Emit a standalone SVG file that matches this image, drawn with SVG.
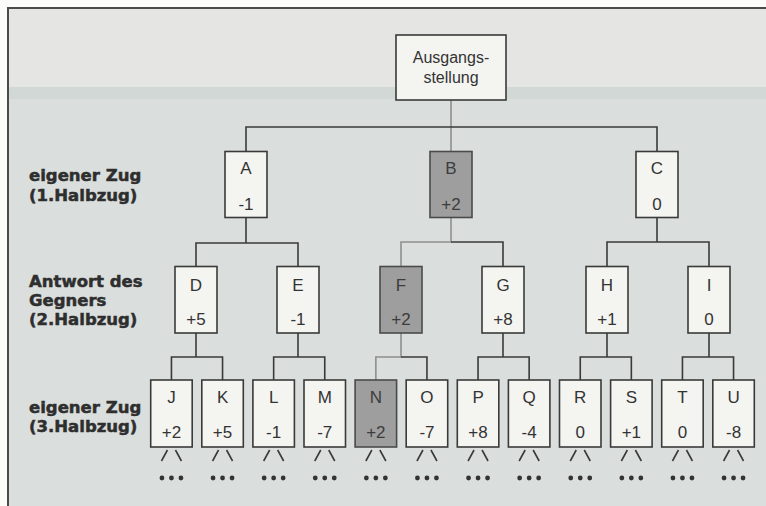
<svg xmlns="http://www.w3.org/2000/svg" width="766" height="506" viewBox="0 0 766 506">
<style>
.bg{fill:#dadedd}
.box{fill:#f4f4f1;stroke:#3a3a3a;stroke-width:1.6}
.hbox{fill:#9e9e9e;stroke:#4a4a4a;stroke-width:1.6}
.ln{stroke:#3a3a3a;stroke-width:1.6;fill:none}
.hl{stroke:#8f8f8f;stroke-width:1.6;fill:none}
.t{font-family:"Liberation Sans",Arial,sans-serif;font-size:17px;fill:#333;text-anchor:middle}
.r{font-size:16px}
.th{fill:#3c3c3c}
.lab{font-family:"DejaVu Sans",sans-serif;font-weight:bold;font-size:16.5px;fill:#2e2e2e;stroke:#2e2e2e;stroke-width:0.5}
.dot{fill:#333}
</style>
<defs>
<g id="more">
<path class="ln" d="M-4,450 L-10,461 M4,450 L10,461"/>
<circle class="dot" cx="-9.5" cy="478" r="2.4"/>
<circle class="dot" cx="0" cy="478" r="2.4"/>
<circle class="dot" cx="9.5" cy="478" r="2.4"/>
</g>
</defs>
<rect x="0" y="0" width="766" height="506" fill="#fbfbfa"/>
<rect x="8" y="8" width="758" height="498" class="bg"/>
<rect x="9" y="9" width="757" height="78" fill="#e5e6e4"/>
<rect x="9" y="87" width="757" height="12" fill="#d2d8d6"/>
<path d="M8,506 L8,8 L766,8" fill="none" stroke="#4a4a4a" stroke-width="2"/>

<g id="labels">
<text class="lab" x="29" y="181">eigener Zug</text>
<text class="lab" x="29" y="201">(1.Halbzug)</text>
<text class="lab" x="29" y="287">Antwort des</text>
<text class="lab" x="29" y="306">Gegners</text>
<text class="lab" x="29" y="325">(2.Halbzug)</text>
<text class="lab" x="29" y="413">eigener Zug</text>
<text class="lab" x="29" y="432">(3.Halbzug)</text>
</g>

<g id="connectors">
<path class="hl" d="M451,100 V151"/>
<path class="ln" d="M246,152 V127 H657 V151"/>
<path class="ln" d="M246,218 V243 M196,266.5 V243 H298 V266.5"/>
<path class="hl" d="M451,217 V242 H401 V266.5"/>
<path class="ln" d="M451,242 H503 V266.5"/>
<path class="ln" d="M657,217 V242 M607,266.5 V242 H709 V266.5"/>
<path class="ln" d="M196,333 V357 M171.45,380 V357 H222.55 V380"/>
<path class="ln" d="M298,333 V357 M273.65,380 V357 H324.75 V380"/>
<path class="hl" d="M401,333 V357 H375.85 V380"/>
<path class="ln" d="M401,357 H426.95 V380"/>
<path class="ln" d="M503,333 V357 M478.05,380 V357 H529.15 V380"/>
<path class="ln" d="M607,333 V357 M580.25,380 V357 H631.35 V380"/>
<path class="ln" d="M709,333 V357 M682.45,380 V357 H733.55 V380"/>
<use href="#more" x="171.45"/>
<use href="#more" x="222.55"/>
<use href="#more" x="273.65"/>
<use href="#more" x="324.75"/>
<use href="#more" x="375.85"/>
<use href="#more" x="426.95"/>
<use href="#more" x="478.05"/>
<use href="#more" x="529.15"/>
<use href="#more" x="580.25"/>
<use href="#more" x="631.35"/>
<use href="#more" x="682.45"/>
<use href="#more" x="733.55"/>
</g>

<g id="root"><rect class="box" x="396" y="35" width="110" height="65"/><text class="t r" x="451" y="63">Ausgangs-</text><text class="t r" x="451" y="83">stellung</text></g>

<g id="A"><rect class="box" x="225" y="151.5" width="42" height="66"/><text class="t" x="246" y="174">A</text><text class="t" x="246" y="210">-1</text></g>
<g id="B"><rect class="hbox" x="430" y="151.5" width="42" height="66"/><text class="t th" x="451" y="174">B</text><text class="t th" x="451" y="210">+2</text></g>
<g id="C"><rect class="box" x="636" y="151.5" width="42" height="66"/><text class="t" x="657" y="174">C</text><text class="t" x="657" y="210">0</text></g>

<g id="D"><rect class="box" x="175" y="266.5" width="42" height="66.5"/><text class="t" x="196" y="291">D</text><text class="t" x="196" y="325">+5</text></g>
<g id="E"><rect class="box" x="277" y="266.5" width="42" height="66.5"/><text class="t" x="298" y="291">E</text><text class="t" x="298" y="325">-1</text></g>
<g id="F"><rect class="hbox" x="380" y="266.5" width="42" height="66.5"/><text class="t th" x="401" y="291">F</text><text class="t th" x="401" y="325">+2</text></g>
<g id="G"><rect class="box" x="482" y="266.5" width="42" height="66.5"/><text class="t" x="503" y="291">G</text><text class="t" x="503" y="325">+8</text></g>
<g id="H"><rect class="box" x="586" y="266.5" width="42" height="66.5"/><text class="t" x="607" y="291">H</text><text class="t" x="607" y="325">+1</text></g>
<g id="I"><rect class="box" x="688" y="266.5" width="42" height="66.5"/><text class="t" x="709" y="291">I</text><text class="t" x="709" y="325">0</text></g>

<g id="J"><rect class="box" x="150.7" y="380" width="41.5" height="67"/><text class="t" x="171.45" y="403">J</text><text class="t" x="171.45" y="438">+2</text></g>
<g id="K"><rect class="box" x="201.8" y="380" width="41.5" height="67"/><text class="t" x="222.55" y="403">K</text><text class="t" x="222.55" y="438">+5</text></g>
<g id="L"><rect class="box" x="252.9" y="380" width="41.5" height="67"/><text class="t" x="273.65" y="403">L</text><text class="t" x="273.65" y="438">-1</text></g>
<g id="M"><rect class="box" x="304" y="380" width="41.5" height="67"/><text class="t" x="324.75" y="403">M</text><text class="t" x="324.75" y="438">-7</text></g>
<g id="N"><rect class="hbox" x="355.1" y="380" width="41.5" height="67"/><text class="t th" x="375.85" y="403">N</text><text class="t th" x="375.85" y="438">+2</text></g>
<g id="O"><rect class="box" x="406.2" y="380" width="41.5" height="67"/><text class="t" x="426.95" y="403">O</text><text class="t" x="426.95" y="438">-7</text></g>
<g id="P"><rect class="box" x="457.3" y="380" width="41.5" height="67"/><text class="t" x="478.05" y="403">P</text><text class="t" x="478.05" y="438">+8</text></g>
<g id="Q"><rect class="box" x="508.4" y="380" width="41.5" height="67"/><text class="t" x="529.15" y="403">Q</text><text class="t" x="529.15" y="438">-4</text></g>
<g id="R"><rect class="box" x="559.5" y="380" width="41.5" height="67"/><text class="t" x="580.25" y="403">R</text><text class="t" x="580.25" y="438">0</text></g>
<g id="S"><rect class="box" x="610.6" y="380" width="41.5" height="67"/><text class="t" x="631.35" y="403">S</text><text class="t" x="631.35" y="438">+1</text></g>
<g id="T"><rect class="box" x="661.7" y="380" width="41.5" height="67"/><text class="t" x="682.45" y="403">T</text><text class="t" x="682.45" y="438">0</text></g>
<g id="U"><rect class="box" x="712.8" y="380" width="41.5" height="67"/><text class="t" x="733.55" y="403">U</text><text class="t" x="733.55" y="438">-8</text></g>
</svg>
